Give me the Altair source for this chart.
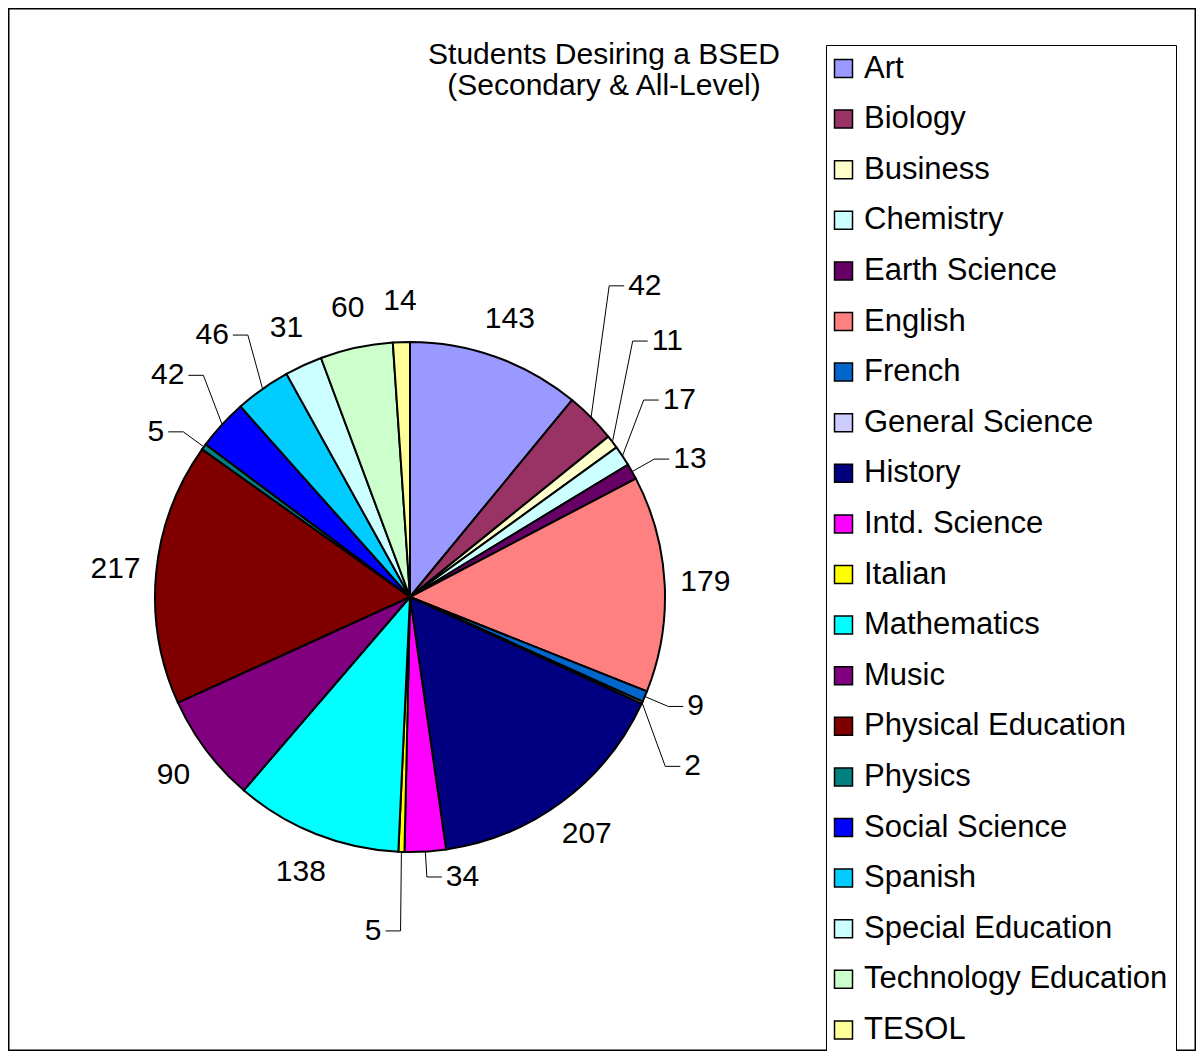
import math
import pandas as pd
import altair as alt

# ---------------- data ----------------
categories = ["Art", "Biology", "Business", "Chemistry", "Earth Science", "English",
              "French", "General Science", "History", "Intd. Science", "Italian",
              "Mathematics", "Music", "Physical Education", "Physics", "Social Science",
              "Spanish", "Special Education", "Technology Education", "TESOL"]
students = [143, 42, 11, 17, 13, 179, 9, 2, 207, 34, 5, 138, 90, 217, 5, 42, 46, 31, 60, 14]
colors = ["#9999FF", "#993366", "#FFFFCC", "#CCFFFF", "#660066", "#FF8080",
          "#0066CC", "#CCCCFF", "#000080", "#FF00FF", "#FFFF00",
          "#00FFFF", "#800080", "#800000", "#008080", "#0000FF",
          "#00CCFF", "#CCFFFF", "#CCFFCC", "#FFFF99"]
# slices whose value label is pulled out with a leader line
leader_labels = ["Biology", "Business", "Chemistry", "Earth Science", "French",
                 "General Science", "Intd. Science", "Italian", "Physics",
                 "Social Science", "Spanish"]
title_lines = ["Students Desiring a BSED", "(Secondary & All-Level)"]

# ---------------- layout ----------------
W, H = 1188, 1043
CX, CY, R = 402, 589, 255
FONT = "Liberation Sans"
LABEL_K = 1.16           # normal label distance (in radii)
ELBOW_K = 1.10           # leader elbow distance (in radii)
GAP = 60.0 / R           # min distance between leader elbows
HSEG = 15.0 / R          # horizontal leader segment
TGAP = 4.0 / R           # gap between leader and text

xscale = alt.Scale(domain=[-CX / R, (W - CX) / R], nice=False, zero=False)
yscale = alt.Scale(domain=[-(H - CY) / R, CY / R], nice=False, zero=False)

total = sum(students)
rows = []
cum = 0
for i, (c, v) in enumerate(zip(categories, students)):
    a0 = cum / total * 2 * math.pi
    cum += v
    a1 = cum / total * 2 * math.pi
    mid = (a0 + a1) / 2
    rows.append(dict(idx=i, category=c, value=v, ux=math.sin(mid), uy=math.cos(mid)))
df = pd.DataFrame(rows)

# normal labels
norm = df[~df.category.isin(leader_labels)].copy()
norm["lx"] = norm.ux * LABEL_K
norm["ly"] = norm.uy * LABEL_K

# leader labels: elbow on mid-angle ray, spread apart vertically
lead = df[df.category.isin(leader_labels)].copy()
lead["ex"] = lead.ux * ELBOW_K
lead["ey"] = lead.uy * ELBOW_K
for sign in (1, -1):
    grp = lead[(lead.ey > 0) if sign > 0 else (lead.ey <= 0)]
    grp = grp.reindex(grp.ey.abs().sort_values().index)
    done = []
    for ix, row in grp.iterrows():
        x, y = row.ex, row.ey
        changed = True
        while changed:
            changed = False
            for px, py in done:
                dx = abs(x - px)
                if dx < GAP:
                    need = math.sqrt(GAP ** 2 - dx ** 2)
                    if abs(y - py) < need - 1e-9:
                        y = py + sign * need
                        changed = True
        done.append((x, y))
        lead.loc[ix, "ey"] = y

line_rows = []
text_rows = []
for _, r in lead.iterrows():
    s = 1 if r.ux > 0 else -1
    line_rows += [
        dict(category=r.category, pt=0, x=r.ux, y=r.uy),
        dict(category=r.category, pt=1, x=r.ex, y=r.ey),
        dict(category=r.category, pt=2, x=r.ex + s * HSEG, y=r.ey),
    ]
    text_rows.append(dict(category=r.category, value=r.value, side=s,
                          x=r.ex + s * (HSEG + TGAP), y=r.ey))
lines_df = pd.DataFrame(line_rows)
ltext = pd.DataFrame(text_rows)

# ---------------- chart ----------------
pie = alt.Chart(df).mark_arc(radius=R, stroke="black", strokeWidth=2).encode(
    theta=alt.Theta("value:Q", stack=True),
    order=alt.Order("idx:Q"),
    color=alt.Color(
        "category:N",
        scale=alt.Scale(domain=categories, range=colors),
        legend=alt.Legend(
            title=None, orient="none", legendX=818, legendY=37, direction="vertical",
            symbolType="square", symbolSize=324, symbolStrokeColor="black",
            symbolStrokeWidth=1.5, symbolOpacity=1, symbolOffset=-6,
            labelFont=FONT, labelFontSize=31, labelColor="black", labelLimit=600,
            labelOffset=5, rowPadding=18.6, padding=8,
            strokeColor="black", fillColor="white",
        ),
    ),
    x=alt.value(CX),
    y=alt.value(CY),
)

norm_text = alt.Chart(norm).mark_text(
    font=FONT, fontSize=30, color="black", align="center", baseline="middle"
).encode(
    x=alt.X("lx:Q", scale=xscale, axis=None),
    y=alt.Y("ly:Q", scale=yscale, axis=None),
    text="value:Q",
)

leader_lines = alt.Chart(lines_df).mark_line(color="black", strokeWidth=1).encode(
    x=alt.X("x:Q", scale=xscale, axis=None),
    y=alt.Y("y:Q", scale=yscale, axis=None),
    detail="category:N",
    order="pt:Q",
)

ltext_right = alt.Chart(ltext[ltext.side > 0]).mark_text(
    font=FONT, fontSize=30, color="black", align="left", baseline="middle"
).encode(
    x=alt.X("x:Q", scale=xscale, axis=None),
    y=alt.Y("y:Q", scale=yscale, axis=None),
    text="value:Q",
)
ltext_left = alt.Chart(ltext[ltext.side < 0]).mark_text(
    font=FONT, fontSize=30, color="black", align="right", baseline="middle"
).encode(
    x=alt.X("x:Q", scale=xscale, axis=None),
    y=alt.Y("y:Q", scale=yscale, axis=None),
    text="value:Q",
)

title = alt.Chart(pd.DataFrame({"t": ["\n".join(title_lines)]})).mark_text(
    font=FONT, fontSize=30, color="black", align="center", baseline="middle",
    lineBreak="\n", lineHeight=31,
).encode(
    x=alt.value(596),
    y=alt.value(47),
    text="t:N",
)

chart = alt.layer(pie, leader_lines, norm_text, ltext_right, ltext_left, title).properties(
    width=W, height=H, padding=0, background="white",
    autosize=alt.AutoSizeParams(type="none"),
).configure_view(stroke="black", strokeWidth=3)

chart.save("out.html", embed_options={"renderer": "svg", "actions": False})
